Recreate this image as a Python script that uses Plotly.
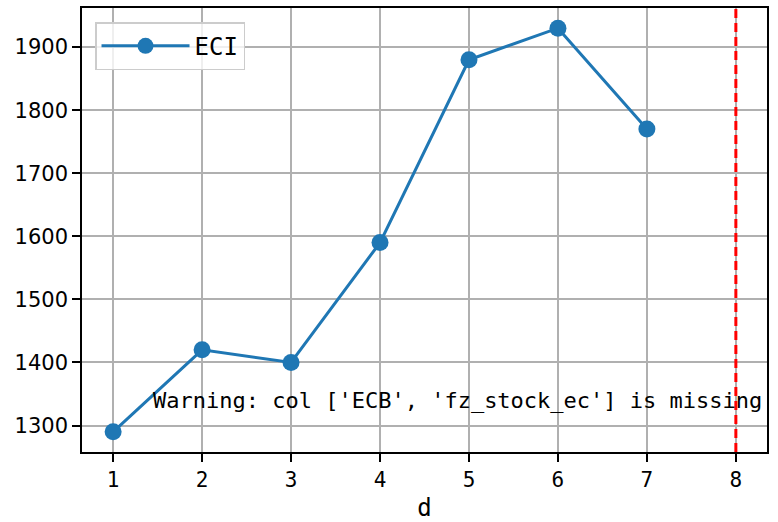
import plotly.graph_objects as go

days = [1, 2, 3, 4, 5, 6, 7]
eci_values = [1290, 1420, 1400, 1590, 1880, 1930, 1770]
series_name = "ECI"
marker_day = 8
warning_text = "Warning: col ['ECB', 'fz_stock_ec'] is missing"
x_ticks = [1, 2, 3, 4, 5, 6, 7, 8]
y_ticks = [1300, 1400, 1500, 1600, 1700, 1800, 1900]

mono = "DejaVu Sans Mono"

fig = go.Figure()
fig.add_trace(go.Scatter(
    x=days, y=eci_values, mode="lines+markers", name=series_name,
    line=dict(color="#1f77b4", width=3),
    marker=dict(color="#1f77b4", size=17),
))

fig.add_shape(type="line", xref="x", yref="y domain",
              x0=marker_day, x1=marker_day, y0=0, y1=1,
              line=dict(color="red", width=3, dash="9px,5px"), layer="above")

fig.add_annotation(text=warning_text, xref="x domain", yref="y domain",
                   x=0.1, y=0.083, xanchor="left", yanchor="bottom",
                   showarrow=False, font=dict(family=mono, size=22, color="black"))

axis_common = dict(
    showline=True, linecolor="black", linewidth=1.6, mirror=True,
    ticks="outside", ticklen=8, tickwidth=1.6, tickcolor="black",
    showgrid=True, gridcolor="#b0b0b0", gridwidth=1.6, zeroline=False,
)

fig.update_xaxes(range=[0.65, 8.35], tickvals=x_ticks,
                 tickfont=dict(family=mono, size=21, color="black"),
                 title=dict(text="d", font=dict(family=mono, size=24, color="black"), standoff=18),
                 **axis_common)
fig.update_yaxes(range=[1258, 1962], tickvals=y_ticks,
                 tickfont=dict(family="DejaVu Sans", size=21, color="black"),
                 **axis_common)

fig.update_layout(
    width=778, height=522,
    margin=dict(l=82, r=11, t=8, b=70, autoexpand=False),
    plot_bgcolor="white", paper_bgcolor="white",
    showlegend=True,
    legend=dict(x=0.019, y=0.968, xanchor="left", yanchor="top",
                bgcolor="rgba(255,255,255,0.8)", bordercolor="#cccccc", borderwidth=1.5,
                font=dict(family=mono, size=24, color="black"), itemwidth=88),
)

fig.write_html("out.html", config={"displayModeBar": False},
               post_script="document.body.style.margin='0';")
